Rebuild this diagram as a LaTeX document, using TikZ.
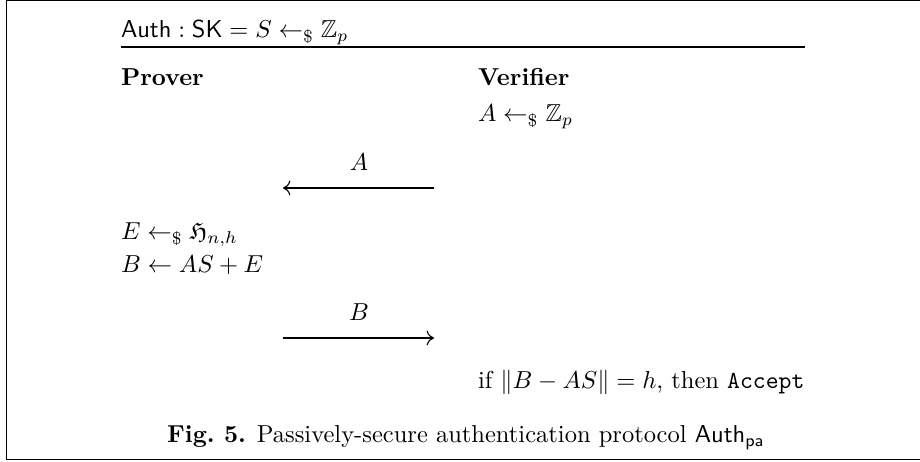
\documentclass[tikz,border=0pt]{standalone}
\usepackage{amsmath,amssymb}
\usetikzlibrary{arrows.meta}
\tikzset{
  txt/.style={anchor=base west, inner sep=0pt, outer sep=0pt},
  lbl/.style={anchor=base, inner sep=0pt, outer sep=0pt},
  msg/.style={line width=0.45pt, -{Computer Modern Rightarrow[length=3pt,width=6pt]}},
  frame/.style={line width=0.5pt},
  rulel/.style={line width=0.6pt}
}
\begin{document}
\begin{tikzpicture}[x=0.408pt, y=-0.408pt]
\useasboundingbox (0,0) rectangle (920,462);
\draw[frame] (6.5,0.6) -- (935,0.6);
\draw[frame] (6.5,0) -- (6.5,459.4) -- (935,459.4);
% header
\node[txt] (hdr) at (121,38) {$\mathsf{Auth} : \mathsf{SK} = S \leftarrow_{\$} \mathbb{Z}_p$};
\coordinate (rl) at (121,47);
\coordinate (rr) at (805,47);
\draw[rulel] (rl) -- (rr);
% parties
\node[txt] (prov) at (121,86) {\textbf{Prover}};
\node[txt] (ver) at (478,86) {\textbf{Verifier}};
\node[txt] (v1) at (478,122) {$A \leftarrow_{\$} \mathbb{Z}_p$};
% message A
\node[lbl] (la) at (359,171) {$A$};
\coordinate (a1) at (434,188);
\coordinate (a2) at (283,188);
\draw[msg] (a1) -- (a2);
% prover computations
\node[txt] (p1) at (121,240) {$E \leftarrow_{\$} \mathfrak{H}_{n,h}$};
\node[txt] (p2) at (121,273) {$B \leftarrow AS + E$};
% message B
\node[lbl] (lb) at (359,321) {$B$};
\coordinate (b1) at (283,338);
\coordinate (b2) at (434,338);
\draw[msg] (b1) -- (b2);
% verifier check
\node[txt] (v2) at (478,389) {if $\lVert B - AS\rVert = h$, then \texttt{Accept}};
% caption
\node[lbl] (cap) at (466,443) {\textbf{Fig.~5.} Passively-secure authentication protocol $\mathsf{Auth}_{\mathsf{pa}}$};
\end{tikzpicture}
\end{document}
